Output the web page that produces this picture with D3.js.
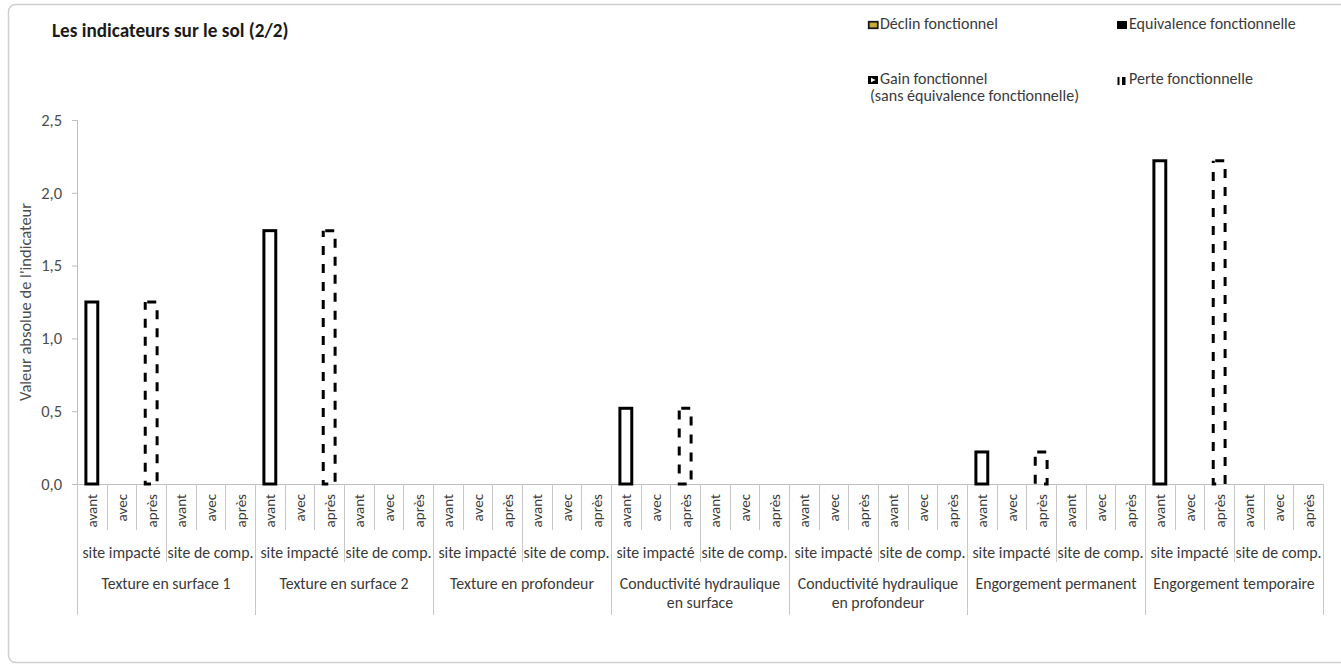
<!DOCTYPE html>
<html>
<head>
<meta charset="utf-8">
<script src="https://cdn.jsdelivr.net/npm/d3@7"></script>
<style>
  html, body { margin: 0; padding: 0; background: #fff; }
  svg { display: block; }
  text { font-family: Carlito, Calibri, Lato, "Open Sans", sans-serif; }
</style>
</head>
<body>
<svg id="chart" width="1341" height="666"></svg>
<script>
// Indicators (top level of the category axis)
const indicators = [
  ["Texture en surface 1"],
  ["Texture en surface 2"],
  ["Texture en profondeur"],
  ["Conductivité hydraulique", "en surface"],
  ["Conductivité hydraulique", "en profondeur"],
  ["Engorgement permanent"],
  ["Engorgement temporaire"]
];
// Sites (middle level) and moments (inner level)
const sites = ["site impacté", "site de comp."];
const moments = ["avant", "avec", "après"];

// Absolute value of each indicator before impact, on the impacted site
const valeurAvant = [1.25, 1.74, 0, 0.52, 0, 0.22, 2.22];
// Functional loss after impact, on the impacted site
const perteApres = [1.25, 1.74, 0, 0.52, 0, 0.22, 2.22];

// Y axis ticks
const yTicks = [0, 0.5, 1.0, 1.5, 2.0, 2.5];

// Legend entries
const legendItems = [
  { key: "declin", lines: ["Déclin fonctionnel"] },
  { key: "equivalence", lines: ["Equivalence fonctionnelle"] },
  { key: "gain", lines: ["Gain fonctionnel", "(sans équivalence fonctionnelle)"] },
  { key: "perte", lines: ["Perte fonctionnelle"] }
];

const svg = d3.select("#chart");
const plot = { left: 77, right: 1323, top: 120, bottom: 484 };

// Chart frame
svg.append("rect")
  .attr("x", 8.5).attr("y", 4.5)
  .attr("width", 1345).attr("height", 658)
  .attr("rx", 7)
  .attr("fill", "#fff")
  .attr("stroke", "#cfcfcf")
  .attr("stroke-width", 1.5);

// Title
svg.append("text")
  .attr("x", 52).attr("y", 37)
  .attr("font-size", 19.2)
  .attr("font-weight", "bold")
  .attr("fill", "#1a1a1a")
  .text("Les indicateurs sur le sol (2/2)");

// Leaf keys: indicator | site | moment
const leaves = [];
indicators.forEach((ind, gi) => sites.forEach((s, si) => moments.forEach((m, mi) => {
  leaves.push({ key: `${gi}|${si}|${mi}`, gi, si, mi, label: m });
})));

const x = d3.scaleBand()
  .domain(leaves.map(d => d.key))
  .range([plot.left, plot.right])
  .paddingInner(0.6)
  .paddingOuter(0.3);
const step = x.step();

const y = d3.scaleLinear().domain([0, 2.5]).range([plot.bottom, plot.top]);

const fr = d3.formatLocale({ decimal: ",", thousands: " ", grouping: [3], currency: ["", " €"] });
const fmt = fr.format(".1f");

// Y axis
const yAxis = svg.append("g")
  .attr("transform", `translate(${plot.left},0)`)
  .call(d3.axisLeft(y).tickValues(yTicks).tickFormat(fmt).tickSize(5).tickPadding(10));
yAxis.select(".domain").attr("stroke", "#bfbfbf").attr("stroke-width", 1);
yAxis.selectAll(".tick line").attr("stroke", "#bfbfbf");
yAxis.selectAll(".tick text")
  .attr("font-size", 16.5)
  .attr("fill", "#4d4d4d")
  .attr("font-family", "Carlito, Calibri, Lato, sans-serif");

// Y axis title
svg.append("text")
  .attr("transform", `translate(31,302) rotate(-90)`)
  .attr("text-anchor", "middle")
  .attr("font-size", 16.5)
  .attr("fill", "#4d4d4d")
  .text("Valeur absolue de l'indicateur");

// X axis baseline
svg.append("line")
  .attr("x1", plot.left).attr("x2", plot.right)
  .attr("y1", plot.bottom + 0.5).attr("y2", plot.bottom + 0.5)
  .attr("stroke", "#bfbfbf");

// Category separators: short between moments, longer between sites, longest between indicators
const nLeaves = leaves.length;
const seps = d3.range(nLeaves + 1);
svg.append("g").selectAll("line").data(seps).join("line")
  .attr("x1", i => Math.round(plot.left + i * step) + 0.5)
  .attr("x2", i => Math.round(plot.left + i * step) + 0.5)
  .attr("y1", plot.bottom)
  .attr("y2", i => i % 6 === 0 ? 615 : (i % 3 === 0 ? 562 : 530))
  .attr("stroke", "#c8c8c8");

// Moment labels (rotated)
svg.append("g").selectAll("text").data(leaves).join("text")
  .attr("transform", d => `translate(${x(d.key) + x.bandwidth() / 2 + 5.5},494) rotate(-90)`)
  .attr("text-anchor", "end")
  .attr("font-size", 15)
  .attr("fill", "#3a3a3a")
  .text(d => d.label);

// Site labels
const siteCells = [];
indicators.forEach((ind, gi) => sites.forEach((s, si) => siteCells.push({ gi, si, label: s })));
svg.append("g").selectAll("text").data(siteCells).join("text")
  .attr("x", d => plot.left + (d.gi * 6 + d.si * 3 + 1.5) * step)
  .attr("y", 557.5)
  .attr("text-anchor", "middle")
  .attr("font-size", 15.8)
  .attr("fill", "#3a3a3a")
  .text(d => d.label);

// Indicator labels
const indLabels = svg.append("g").selectAll("text").data(indicators).join("text")
  .attr("x", (d, gi) => plot.left + (gi * 6 + 3) * step)
  .attr("y", 588.5)
  .attr("text-anchor", "middle")
  .attr("font-size", 15.8)
  .attr("fill", "#3a3a3a");
indLabels.selectAll("tspan").data(d => d).join("tspan")
  .attr("x", function() { return d3.select(this.parentNode).attr("x"); })
  .attr("dy", (d, i) => i === 0 ? 0 : 19.5)
  .text(d => d);

// Bars: value before impact (solid outline)
const avantBars = valeurAvant
  .map((v, gi) => ({ key: `${gi}|0|0`, v }))
  .filter(d => d.v > 0);
svg.append("g").selectAll("rect").data(avantBars).join("rect")
  .attr("x", d => x(d.key))
  .attr("y", d => y(d.v))
  .attr("width", x.bandwidth())
  .attr("height", d => y(0) - y(d.v))
  .attr("fill", "#fff")
  .attr("stroke", "#000")
  .attr("stroke-width", 3);

// Bars: functional loss after impact (dashed outline)
const perteBars = perteApres
  .map((v, gi) => ({ key: `${gi}|0|2`, v }))
  .filter(d => d.v > 0);
svg.append("g").selectAll("rect").data(perteBars).join("rect")
  .attr("x", d => x(d.key))
  .attr("y", d => y(d.v))
  .attr("width", x.bandwidth())
  .attr("height", d => y(0) - y(d.v))
  .attr("fill", "none")
  .attr("stroke", "#000")
  .attr("stroke-width", 3)
  .attr("stroke-dasharray", "9,9")
  .attr("stroke-dashoffset", -2);

// Legend
const legendPos = [
  { x: 868, y: 21 }, { x: 1117, y: 21 },
  { x: 868, y: 76 }, { x: 1117, y: 76 }
];
const lg = svg.append("g").selectAll("g").data(legendItems).join("g")
  .attr("transform", (d, i) => `translate(${legendPos[i].x},${legendPos[i].y})`);

lg.each(function(d) {
  const g = d3.select(this);
  if (d.key === "declin") {
    g.append("rect").attr("x", 0.75).attr("y", 0.75).attr("width", 9).attr("height", 6.5)
      .attr("fill", "#c8ad35").attr("stroke", "#1a1a1a").attr("stroke-width", 1.8);
  } else if (d.key === "equivalence") {
    g.append("rect").attr("x", 0).attr("y", 0).attr("width", 10).attr("height", 8).attr("fill", "#000");
  } else if (d.key === "gain") {
    g.append("rect").attr("x", 0).attr("y", 0).attr("width", 10).attr("height", 8).attr("fill", "#000");
    g.append("path").attr("d", "M3,1.8 L7.5,4 L3,6.2 Z").attr("fill", "#fff");
  } else if (d.key === "perte") {
    g.append("rect").attr("x", 0.5).attr("y", 1).attr("width", 2).attr("height", 8).attr("fill", "#000");
    g.append("rect").attr("x", 5).attr("y", 1).attr("width", 3.5).attr("height", 8).attr("fill", "#000");
  }
  const t = g.append("text")
    .attr("x", 12).attr("y", 8)
    .attr("font-size", 16)
    .attr("fill", "#3a3a3a");
  t.selectAll("tspan").data(d.lines).join("tspan")
    .attr("x", (l, i) => i === 0 ? 12 : 2)
    .attr("dy", (l, i) => i === 0 ? 0 : 17)
    .text(l => l);
});
</script>
</body>
</html>
